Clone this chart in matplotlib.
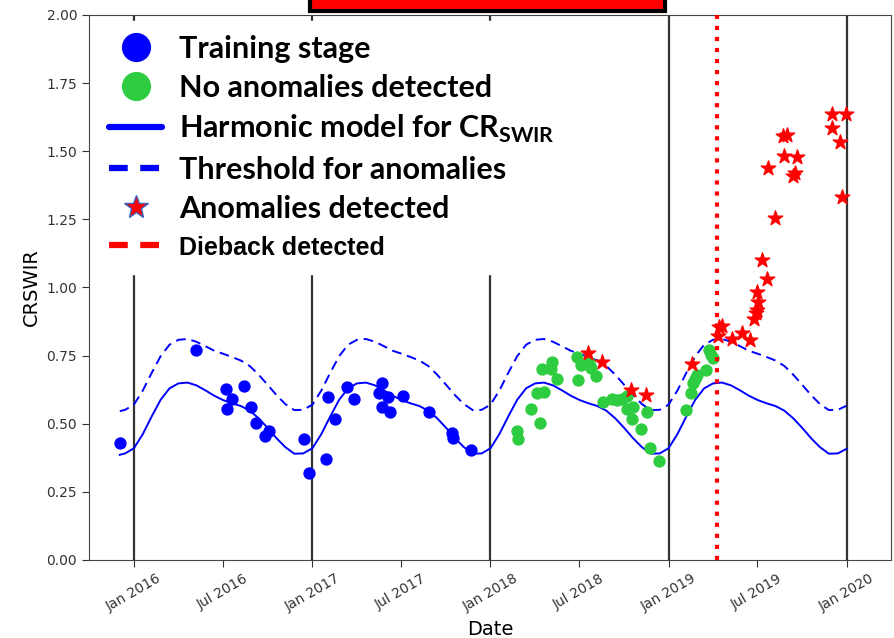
import matplotlib
matplotlib.use('Agg')
import matplotlib.pyplot as plt
import matplotlib.dates as mdates
from matplotlib.lines import Line2D
from matplotlib.patches import Rectangle
import numpy as np
import pandas as pd

model_dates = [2015.92, 2015.95,
               2016.00, 2016.05, 2016.10, 2016.15, 2016.20, 2016.25, 2016.30, 2016.35, 2016.40, 2016.45,
               2016.50, 2016.55, 2016.60, 2016.65, 2016.70, 2016.75, 2016.80, 2016.85, 2016.90, 2016.95,
               2017.00, 2017.05, 2017.10, 2017.15, 2017.20, 2017.25, 2017.30, 2017.35, 2017.40, 2017.45,
               2017.50, 2017.55, 2017.60, 2017.65, 2017.70, 2017.75, 2017.80, 2017.85, 2017.90, 2017.95,
               2018.00, 2018.05, 2018.10, 2018.15, 2018.20, 2018.25, 2018.30, 2018.35, 2018.40, 2018.45,
               2018.50, 2018.55, 2018.60, 2018.65, 2018.70, 2018.75, 2018.80, 2018.85, 2018.90, 2018.95,
               2019.00, 2019.05, 2019.10, 2019.15, 2019.20, 2019.25, 2019.30, 2019.35, 2019.40, 2019.45,
               2019.50, 2019.55, 2019.60, 2019.65, 2019.70, 2019.75, 2019.80, 2019.85, 2019.90, 2019.95,
               2020.00]
model_vals = [0.386, 0.391,
              0.410, 0.462, 0.527, 0.588, 0.630, 0.648, 0.651, 0.641, 0.623, 0.603,
              0.587, 0.575, 0.565, 0.548, 0.520, 0.485, 0.447, 0.414, 0.390, 0.391,
              0.410, 0.462, 0.527, 0.588, 0.630, 0.648, 0.651, 0.641, 0.623, 0.603,
              0.587, 0.575, 0.565, 0.548, 0.520, 0.485, 0.447, 0.414, 0.390, 0.391,
              0.410, 0.462, 0.527, 0.588, 0.630, 0.648, 0.651, 0.641, 0.623, 0.603,
              0.587, 0.575, 0.565, 0.548, 0.520, 0.485, 0.447, 0.414, 0.390, 0.391,
              0.410, 0.462, 0.527, 0.588, 0.630, 0.648, 0.651, 0.641, 0.623, 0.603,
              0.587, 0.575, 0.565, 0.548, 0.520, 0.485, 0.447, 0.414, 0.390, 0.391,
              0.408]
thresh_vals = [0.546, 0.551,
               0.570, 0.622, 0.687, 0.748, 0.790, 0.808, 0.811, 0.801, 0.785, 0.768,
               0.757, 0.745, 0.732, 0.712, 0.680, 0.643, 0.605, 0.572, 0.550, 0.551,
               0.570, 0.622, 0.687, 0.748, 0.790, 0.808, 0.811, 0.801, 0.785, 0.768,
               0.757, 0.745, 0.732, 0.712, 0.680, 0.643, 0.605, 0.572, 0.550, 0.551,
               0.570, 0.622, 0.687, 0.748, 0.790, 0.808, 0.811, 0.801, 0.785, 0.768,
               0.757, 0.745, 0.732, 0.712, 0.680, 0.643, 0.605, 0.572, 0.550, 0.551,
               0.570, 0.622, 0.687, 0.748, 0.790, 0.808, 0.811, 0.801, 0.785, 0.768,
               0.757, 0.745, 0.732, 0.712, 0.680, 0.643, 0.605, 0.572, 0.550, 0.551,
               0.566]

train_dates = [2015.921, 2016.348, 2016.517, 2016.620, 2016.552, 2016.524, 2016.655, 2016.685,
               2016.760, 2016.736, 2016.953, 2016.985, 2017.075, 2017.088, 2017.124, 2017.195,
               2017.236, 2017.388, 2017.372, 2017.425, 2017.393, 2017.433, 2017.510, 2017.654,
               2017.785, 2017.790, 2017.888]
train_vals = [0.428, 0.771, 0.627, 0.640, 0.592, 0.554, 0.560, 0.502,
              0.473, 0.455, 0.445, 0.318, 0.372, 0.597, 0.517, 0.634,
              0.592, 0.651, 0.614, 0.597, 0.560, 0.544, 0.602, 0.544,
              0.467, 0.449, 0.404]

ok_dates = [2018.146, 2018.156, 2018.225, 2018.277, 2018.262, 2018.300, 2018.290, 2018.346,
            2018.340, 2018.374, 2018.490, 2018.483, 2018.510, 2018.552, 2018.562, 2018.590,
            2018.633, 2018.684, 2018.712, 2018.740, 2018.768, 2018.764, 2018.802, 2018.792,
            2018.843, 2018.880, 2018.893, 2018.948, 2019.100, 2019.124, 2019.135, 2019.146,
            2019.161, 2019.212, 2019.226, 2019.236, 2019.251]
ok_vals = [0.473, 0.444, 0.555, 0.502, 0.612, 0.618, 0.700, 0.728,
           0.700, 0.664, 0.661, 0.744, 0.716, 0.728, 0.703, 0.675,
           0.579, 0.591, 0.587, 0.591, 0.602, 0.553, 0.560, 0.519,
           0.480, 0.543, 0.410, 0.363, 0.550, 0.612, 0.648, 0.663,
           0.679, 0.697, 0.771, 0.752, 0.740]

anom_dates = [2018.546, 2018.627, 2018.787, 2018.871, 2019.129, 2019.283, 2019.302, 2019.279,
              2019.358, 2019.414, 2019.455, 2019.480, 2019.494, 2019.502, 2019.498, 2019.492,
              2019.550, 2019.526, 2019.600, 2019.556, 2019.648, 2019.720, 2019.708, 2019.700,
              2019.644, 2019.663, 2019.920, 2019.997, 2019.920, 2019.960, 2019.975]
anom_vals = [0.761, 0.728, 0.624, 0.606, 0.718, 0.856, 0.859, 0.822,
             0.810, 0.834, 0.807, 0.884, 0.917, 0.948, 0.985, 0.905,
             1.030, 1.101, 1.254, 1.437, 1.482, 1.478, 1.421, 1.409,
             1.556, 1.560, 1.637, 1.637, 1.584, 1.533, 1.333]

year_lines = ['2016-01-01', '2017-01-01', '2018-01-01', '2019-01-01', '2020-01-01']
dieback_date = '2019-04-11'

legend_labels = ['Training stage', 'No anomalies detected', 'Harmonic model for CR$_{\\mathbf{SWIR}}$',
                 'Threshold for anomalies', 'Anomalies detected', 'Dieback detected']


def to_dates(dec):
    dec = np.asarray(dec, dtype=float)
    yr = np.floor(dec).astype(int)
    start = pd.to_datetime([f'{y}-01-01' for y in yr])
    return start + pd.to_timedelta((dec - yr) * 365.25, unit='D')


plt.rcParams['mathtext.fontset'] = 'custom'
plt.rcParams['mathtext.rm'] = 'Lato'
plt.rcParams['mathtext.bf'] = 'Lato:bold'

blue = '#0000ff'
green = '#2ecc40'
red = '#ff0000'

fig = plt.figure(figsize=(8.94, 6.38), dpi=100)
ax = fig.add_axes([0.0996, 0.1223, 0.897, 0.8542])

for d in year_lines:
    ax.axvline(pd.Timestamp(d), color='#333333', lw=1.6, zorder=1)

ax.plot(to_dates(model_dates), model_vals, color=blue, lw=1.4, zorder=2)
ax.plot(to_dates(model_dates), thresh_vals, color=blue, lw=1.4, ls=(0, (5, 3)), zorder=2)
ax.scatter(to_dates(train_dates), train_vals, s=62, color=blue, zorder=3)
ax.scatter(to_dates(ok_dates), ok_vals, s=62, color=green, zorder=3)
ax.scatter(to_dates(anom_dates), anom_vals, s=120, marker='*', color=red, zorder=4)
ax.axvline(pd.Timestamp(dieback_date), color=red, lw=3, ls=':', zorder=5)

ax.set_xlim(pd.Timestamp('2015-10-01'), pd.Timestamp('2020-04-01'))
ax.set_ylim(0, 2)
ax.set_yticks(np.arange(0, 2.01, 0.25))
ax.yaxis.set_major_formatter(matplotlib.ticker.FormatStrFormatter('%.2f'))
ax.xaxis.set_major_locator(mdates.MonthLocator(bymonth=[1, 7]))
ax.xaxis.set_major_formatter(mdates.DateFormatter('%b %Y'))
for lbl in ax.get_xticklabels():
    lbl.set_rotation(30)
    lbl.set_ha('center')
ax.tick_params(labelsize=10, colors='#333333', length=5)
for s in ax.spines.values():
    s.set_color('#444444')
ax.set_xlabel('Date', fontsize=14, labelpad=4)
ax.set_ylabel('CRSWIR', fontsize=14)

handles = [
    Line2D([], [], ls='none', marker='o', ms=20, color=blue),
    Line2D([], [], ls='none', marker='o', ms=20, color=green),
    Line2D([], [], color=blue, lw=4.5, solid_capstyle='round'),
    Line2D([], [], color=blue, lw=4.5, ls=(0, (3, 2))),
    Line2D([], [], ls='none', marker='*', ms=18, markerfacecolor=red, markeredgecolor='#4060c0', markeredgewidth=1),
    Line2D([], [], color=red, lw=4.5, ls=(0, (3, 2))),
]
leg = ax.legend(handles, legend_labels, loc='upper left', bbox_to_anchor=(0, 1), borderaxespad=0.2,
                prop=dict(family='Lato', weight='bold', size=22), handlelength=1.75, handletextpad=0.55,
                borderpad=0.45, labelspacing=0.36, fancybox=False, framealpha=1, edgecolor='white')
leg.get_texts()[5].set_fontsize(18)
leg.get_texts()[5].set_family('Liberation Sans')
leg.set_zorder(10)

fig.patches.append(Rectangle((310 / 894, 1 - 11 / 638), 355 / 894, 0.05, transform=fig.transFigure,
                             facecolor=red, edgecolor='black', lw=3, clip_on=False))

fig.savefig('out.png', dpi=100)
